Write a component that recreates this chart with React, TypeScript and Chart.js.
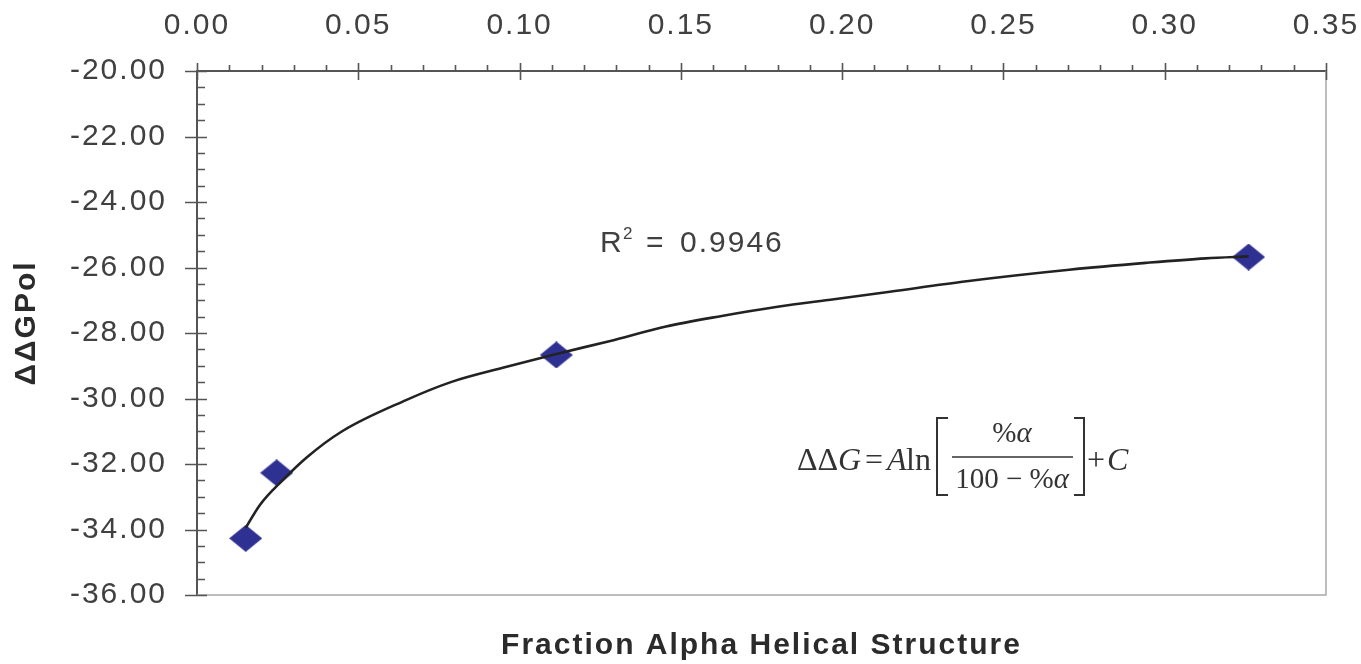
import React, { useEffect, useRef } from 'react';
import { Chart, registerables } from 'chart.js';

Chart.register(...registerables);

// ---- data ----
const pointX = [0.0151, 0.0247, 0.1114, 0.326];
const pointY = [-34.27, -32.27, -28.67, -25.68];

const curveX = [0.0151, 0.0195, 0.0265, 0.034, 0.045, 0.0648, 0.0787, 0.0957, 0.1114, 0.1278, 0.1454, 0.1627, 0.18, 0.1975, 0.2148, 0.2386, 0.2704, 0.2941, 0.3127, 0.326];
const curveY = [-33.95, -33.25, -32.5, -31.8, -31.0, -30.05, -29.5, -29.04, -28.64, -28.25, -27.8, -27.48, -27.2, -26.97, -26.74, -26.42, -26.07, -25.86, -25.72, -25.66];

const xMin = 0;
const xMax = 0.35;
const xStep = 0.05;
const xMinorStep = 0.01;
const yMin = -36;
const yMax = -20;
const yStep = 2;
const yMinorStep = 0.5;

const xTitle = 'Fraction Alpha Helical Structure';
const yTitle = 'ΔΔGPol';
const r2Label = '0.9946';

const SANS = "'Liberation Sans', Arial, sans-serif";
const SERIF = "'Liberation Serif', 'Times New Roman', serif";

function makeDiamond(): HTMLCanvasElement {
  const c = document.createElement('canvas');
  c.width = 33;
  c.height = 27;
  const g = c.getContext('2d')!;
  g.fillStyle = '#2e3192';
  g.beginPath();
  g.moveTo(16.5, 0);
  g.lineTo(33, 13.5);
  g.lineTo(16.5, 27);
  g.lineTo(0, 13.5);
  g.closePath();
  g.fill();
  return c;
}

const decor = {
  id: 'decor',
  beforeLayout(chart: any) {
    chart.ctx.letterSpacing = '2px';
  },
  beforeDraw(chart: any) {
    const ctx = chart.ctx;
    ctx.save();
    ctx.fillStyle = '#ffffff';
    ctx.fillRect(0, 0, chart.width, chart.height);
    ctx.restore();
    ctx.letterSpacing = '2px';
  },
  afterDraw(chart: any) {
    const ctx = chart.ctx;
    const ca = chart.chartArea;
    const xs = chart.scales.x;
    const ys = chart.scales.y;
    ctx.save();

    // right & bottom frame
    ctx.strokeStyle = '#a8a8a8';
    ctx.lineWidth = 1.5;
    ctx.beginPath();
    ctx.moveTo(ca.right, ca.top);
    ctx.lineTo(ca.right, ca.bottom);
    ctx.lineTo(ca.left, ca.bottom);
    ctx.stroke();

    // tick marks
    ctx.strokeStyle = '#555555';
    ctx.lineWidth = 1.6;
    ctx.beginPath();
    const nx = Math.round((xMax - xMin) / xMinorStep);
    for (let i = 0; i <= nx; i++) {
      const v = xMin + i * xMinorStep;
      const px = Math.round(xs.getPixelForValue(v)) + 0.5;
      if (i % Math.round(xStep / xMinorStep) === 0) {
        ctx.moveTo(px, ca.top - 8);
        ctx.lineTo(px, ca.top + 9);
      } else {
        ctx.moveTo(px, ca.top - 6);
        ctx.lineTo(px, ca.top);
      }
    }
    const ny = Math.round((yMax - yMin) / yMinorStep);
    for (let i = 0; i <= ny; i++) {
      const v = yMin + i * yMinorStep;
      const py = Math.round(ys.getPixelForValue(v)) + 0.5;
      if (i % Math.round(yStep / yMinorStep) === 0) {
        ctx.moveTo(ca.left - 12, py);
        ctx.lineTo(ca.left + 10, py);
      } else {
        ctx.moveTo(ca.left, py);
        ctx.lineTo(ca.left + 8, py);
      }
    }
    ctx.stroke();

    // axis titles
    ctx.fillStyle = '#2b2b2b';
    ctx.letterSpacing = '2px';
    ctx.font = `bold 30px ${SANS}`;
    ctx.textAlign = 'center';
    ctx.textBaseline = 'alphabetic';
    ctx.fillText(xTitle, (ca.left + ca.right) / 2, ca.bottom + 59);

    ctx.save();
    ctx.translate(35, ca.top + 252);
    ctx.rotate(-Math.PI / 2);
    ctx.fillText(yTitle, 0, 0);
    ctx.restore();

    // R^2 label
    const rx = ca.left + 403;
    const ry = ca.top + 181;
    ctx.fillStyle = '#404040';
    ctx.textAlign = 'left';
    ctx.font = `30px ${SANS}`;
    ctx.letterSpacing = '2px';
    ctx.fillText('R', rx, ry);
    ctx.font = `17px ${SANS}`;
    ctx.letterSpacing = '0px';
    ctx.fillText('2', rx + 23, ry - 13);
    ctx.font = `30px ${SANS}`;
    ctx.letterSpacing = '2px';
    ctx.fillText('=', rx + 46, ry);
    ctx.fillText(r2Label, rx + 80, ry);

    // formula
    const ax = ca.left + 600;
    const ay = ca.top + 399;
    ctx.fillStyle = '#333333';
    ctx.letterSpacing = '0px';
    ctx.textAlign = 'left';
    ctx.font = `32px ${SERIF}`;
    ctx.fillText('ΔΔ', ax, ay);
    ctx.font = `italic 32px ${SERIF}`;
    ctx.fillText('G', ax + 41, ay);
    ctx.font = `32px ${SERIF}`;
    ctx.fillText('=', ax + 68, ay);
    ctx.font = `italic 32px ${SERIF}`;
    ctx.fillText('A', ax + 90, ay);
    ctx.font = `32px ${SERIF}`;
    ctx.fillText('ln', ax + 109, ay);

    // brackets
    ctx.strokeStyle = '#333333';
    ctx.lineWidth = 2;
    ctx.beginPath();
    ctx.moveTo(ax + 151, ay - 52);
    ctx.lineTo(ax + 140, ay - 52);
    ctx.lineTo(ax + 140, ay + 25);
    ctx.lineTo(ax + 151, ay + 25);
    ctx.moveTo(ax + 277, ay - 52);
    ctx.lineTo(ax + 287, ay - 52);
    ctx.lineTo(ax + 287, ay + 25);
    ctx.lineTo(ax + 277, ay + 25);
    ctx.stroke();

    // fraction
    ctx.lineWidth = 1.5;
    ctx.beginPath();
    ctx.moveTo(ax + 155, ay - 13);
    ctx.lineTo(ax + 276, ay - 13);
    ctx.stroke();
    const fc = ax + 215;
    ctx.font = `29px ${SERIF}`;
    const pctW = ctx.measureText('%').width;
    ctx.font = `italic 29px ${SERIF}`;
    const alW = ctx.measureText('α').width;
    ctx.textAlign = 'left';
    let sx = fc - (pctW + alW) / 2;
    ctx.font = `29px ${SERIF}`;
    ctx.fillText('%', sx, ay - 28);
    ctx.font = `italic 29px ${SERIF}`;
    ctx.fillText('α', sx + pctW, ay - 28);
    ctx.font = `29px ${SERIF}`;
    const denA = '100 − %';
    const dW = ctx.measureText(denA).width;
    sx = fc - (dW + alW) / 2;
    ctx.fillText(denA, sx, ay + 18);
    ctx.font = `italic 29px ${SERIF}`;
    ctx.fillText('α', sx + dW, ay + 18);

    ctx.font = `32px ${SERIF}`;
    ctx.fillText('+', ax + 290, ay);
    ctx.font = `italic 32px ${SERIF}`;
    ctx.fillText('C', ax + 310, ay);

    ctx.restore();
    ctx.letterSpacing = '2px';
  },
};

export default function App() {
  const ref = useRef<HTMLCanvasElement | null>(null);

  useEffect(() => {
    if (!ref.current) return;
    const diamond = makeDiamond();
    const chart = new Chart(ref.current, {
      type: 'scatter',
      data: {
        datasets: [
          {
            label: 'fit',
            data: curveX.map((x, i) => ({ x, y: curveY[i] })),
            showLine: true,
            borderColor: '#222222',
            borderWidth: 2.6,
            pointRadius: 0,
            cubicInterpolationMode: 'monotone',
            order: 0,
          },
          {
            label: 'data',
            data: pointX.map((x, i) => ({ x, y: pointY[i] })),
            showLine: false,
            pointStyle: diamond as any,
            pointRadius: 13,
            backgroundColor: '#2e3192',
            borderColor: '#2e3192',
            order: 1,
          },
        ],
      },
      options: {
        responsive: false,
        animation: false,
        devicePixelRatio: 1,
        events: [],
        layout: { padding: { left: 0, right: 35, top: 0, bottom: 69 } },
        plugins: {
          legend: { display: false },
          tooltip: { enabled: false },
          title: { display: false },
        },
        scales: {
          x: {
            type: 'linear',
            position: 'top',
            min: xMin,
            max: xMax,
            grid: { display: false, drawTicks: false },
            border: { display: true, color: '#555555', width: 2 },
            ticks: {
              stepSize: xStep,
              padding: 27,
              color: '#404040',
              font: { family: SANS, size: 30 },
              maxRotation: 0,
              autoSkip: false,
              callback: (v: any) => Number(v).toFixed(2),
            },
            afterFit: (s: any) => {
              s.height = 71;
              s.paddingLeft = 0;
              s.paddingRight = 0;
            },
          },
          y: {
            type: 'linear',
            position: 'left',
            min: yMin,
            max: yMax,
            grid: { display: false, drawTicks: false },
            border: { display: true, color: '#555555', width: 2 },
            ticks: {
              stepSize: yStep,
              padding: 30,
              color: '#404040',
              font: { family: SANS, size: 30 },
              autoSkip: false,
              callback: (v: any) => Number(v).toFixed(2),
            },
            afterFit: (s: any) => {
              s.width = 197;
              s.paddingTop = 0;
              s.paddingBottom = 0;
            },
          },
        },
      },
      plugins: [decor],
    });
    return () => chart.destroy();
  }, []);

  return (
    <div style={{ position: 'absolute', left: 0, top: 0, width: 1361, height: 664, background: '#fff' }}>
      <canvas ref={ref} width={1361} height={664} style={{ display: 'block' }} />
    </div>
  );
}
